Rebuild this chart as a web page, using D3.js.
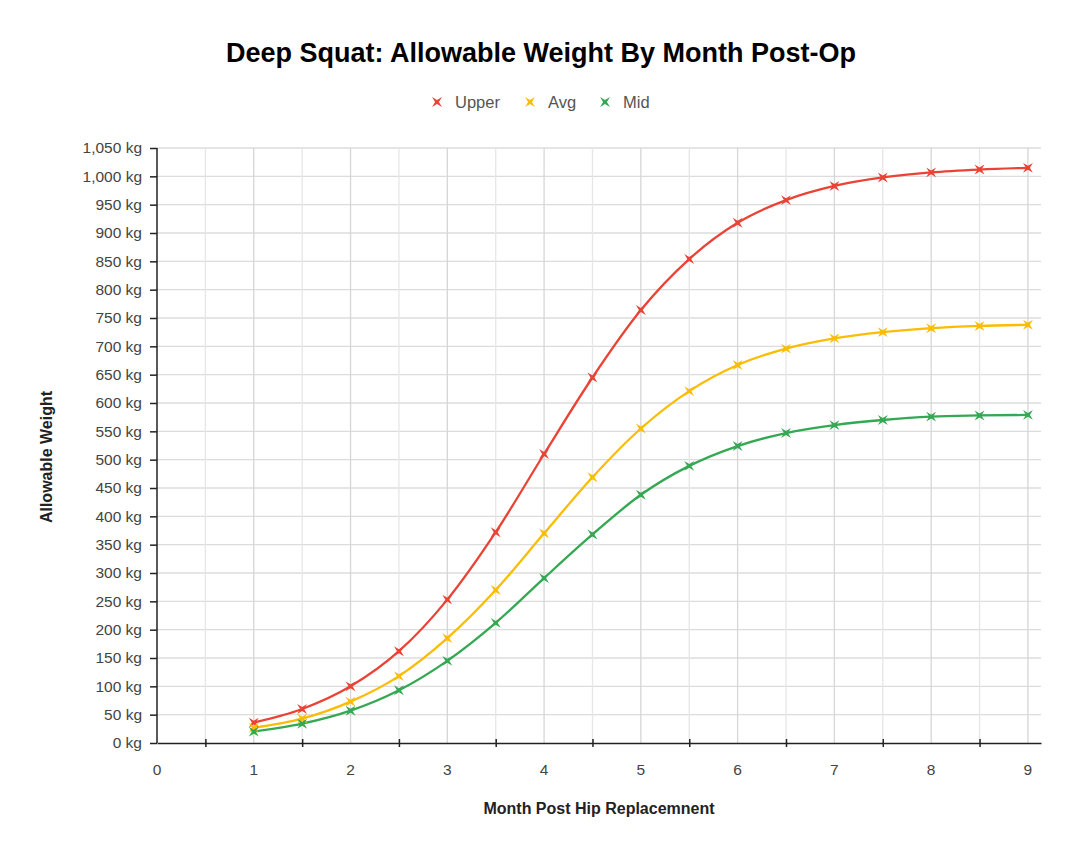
<!DOCTYPE html>
<html>
<head>
<meta charset="utf-8">
<script src="https://cdn.jsdelivr.net/npm/d3@7"></script>
<style>
  body { margin: 0; background: #fff; }
  svg { display: block; font-family: "Liberation Sans", Arial, sans-serif; }
</style>
</head>
<body>
<svg id="chart" width="1074" height="852"></svg>
<script>
const months = [1, 1.5, 2, 2.5, 3, 3.5, 4, 4.5, 5, 5.5, 6, 6.5, 7, 7.5, 8, 8.5, 9];
const upper = [36, 60, 100, 162, 253, 372, 510, 645, 764, 854, 918, 958, 983, 998, 1007, 1012, 1015];
const avg   = [27, 43, 73, 118, 185, 270, 370, 469, 555, 621, 667, 696, 714, 725, 732, 736, 738];
const mid   = [20, 34, 57, 93, 145, 212, 291, 368, 438, 489, 524, 547, 561, 570, 576, 578, 579];
const seriesNames = ["Upper", "Avg", "Mid"];
const seriesColors = ["#ea4335", "#fbbc04", "#34a853"];
const xTickLabels = [0, 1, 2, 3, 4, 5, 6, 7, 8, 9];
const xMinorTicks = [0.5, 1.5, 2.5, 3.5, 4.5, 5.5, 6.5, 7.5, 8.5];
const xGrid = [0.5, 1, 1.5, 2, 2.5, 3, 3.5, 4, 4.5, 5, 5.5, 6, 6.5, 7, 7.5, 8, 8.5, 9];
const yTicks = d3.range(0, 1051, 50);

const title = "Deep Squat: Allowable Weight By Month Post-Op";
const xTitle = "Month Post Hip Replacemnent";
const yTitle = "Allowable Weight";

const series = [upper, avg, mid];

const svg = d3.select("#chart");
const x = d3.scaleLinear().domain([0, 9.135]).range([157, 1041]);
const y = d3.scaleLinear().domain([0, 1050]).range([743, 148]);

// gridlines
svg.append("g").selectAll("line.h").data(yTicks.filter(d => d > 0)).join("line")
  .attr("x1", x(0)).attr("x2", x.range()[1])
  .attr("y1", d => y(d)).attr("y2", d => y(d))
  .attr("stroke", "#dcdcdc").attr("stroke-width", 1.3);
svg.append("g").selectAll("line.v").data(xGrid).join("line")
  .attr("x1", d => x(d)).attr("x2", d => x(d))
  .attr("y1", y(0)).attr("y2", y(1050))
  .attr("stroke", d => Number.isInteger(d) ? "#d6d6d6" : "#e6e6e6").attr("stroke-width", 1.3);

// y axis
const yAxis = d3.axisLeft(y).tickValues(yTicks).tickSize(7).tickPadding(8)
  .tickFormat(d => d3.format(",")(d) + " kg");
const gy = svg.append("g").attr("transform", `translate(${x(0)},0)`).call(yAxis);
gy.select(".domain").attr("stroke", "#222").attr("stroke-width", 1.5).attr("d", `M0,${y(1050)}V${y(0)}`);
gy.selectAll(".tick line").attr("stroke", "#222").attr("stroke-width", 1.5);
gy.selectAll(".tick text").attr("fill", "#444").style("font-size", "15.5px").style("font-family", "Liberation Sans, Arial, sans-serif");

// x axis line
const xAxis = d3.axisBottom(x).tickValues(xMinorTicks).tickSize(4).tickSizeOuter(0).tickFormat("");
const gx = svg.append("g").attr("transform", `translate(0,${y(0)})`).call(xAxis);
gx.select(".domain").attr("stroke", "#222").attr("stroke-width", 1.5);
gx.selectAll(".tick line").attr("stroke", "#222").attr("stroke-width", 1.5).attr("y1", -4).attr("y2", 4);
// x labels
svg.append("g").selectAll("text").data(xTickLabels).join("text")
  .attr("x", d => x(d)).attr("y", 775)
  .attr("text-anchor", "middle").attr("fill", "#444").style("font-size", "15.5px")
  .text(d => d);

// lines
const line = d3.line().x((d, i) => x(months[i])).y(d => y(d)).curve(d3.curveMonotoneX);
const starPath = (r) => {
  const pts = [];
  for (let k = 0; k < 8; k++) {
    const ang = Math.PI / 4 + k * Math.PI / 4;
    const rr = k % 2 === 0 ? r : r * 0.28;
    pts.push([rr * Math.cos(ang), rr * Math.sin(ang)]);
  }
  return "M" + pts.map(p => p.join(",")).join("L") + "Z";
};

series.forEach((vals, si) => {
  svg.append("path").datum(vals).attr("d", line)
    .attr("fill", "none").attr("stroke", seriesColors[si]).attr("stroke-width", 2.3);
});
series.forEach((vals, si) => {
  svg.append("g").selectAll("path").data(vals).join("path")
    .attr("transform", (d, i) => `translate(${x(months[i])},${y(d)})`)
    .attr("d", starPath(7))
    .attr("fill", seriesColors[si]);
});

// title
svg.append("text").attr("x", 541).attr("y", 62).attr("text-anchor", "middle")
  .style("font-size", "27px").style("font-weight", "bold").attr("fill", "#000").text(title);

// legend
const legendX = [437, 530, 605];
seriesNames.forEach((n, i) => {
  svg.append("path").attr("transform", `translate(${legendX[i]},102)`).attr("d", starPath(7)).attr("fill", seriesColors[i]);
  svg.append("text").attr("x", legendX[i] + 18).attr("y", 108).attr("fill", "#555")
    .style("font-size", "16.5px").text(n);
});

// axis titles
svg.append("text").attr("x", 599).attr("y", 814).attr("text-anchor", "middle")
  .style("font-size", "16px").style("font-weight", "bold").attr("fill", "#222").text(xTitle);
svg.append("text").attr("transform", "translate(52,457) rotate(-90)").attr("text-anchor", "middle")
  .style("font-size", "16px").style("font-weight", "bold").attr("fill", "#222").text(yTitle);
</script>
</body>
</html>
